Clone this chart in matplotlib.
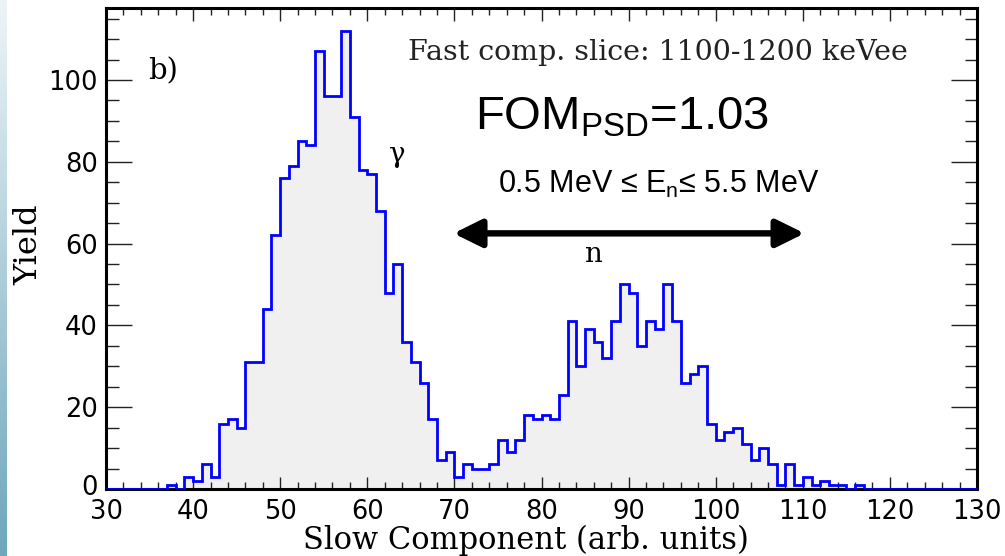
import numpy as np
import matplotlib
matplotlib.use('Agg')
from matplotlib import pyplot as plt
from matplotlib.ticker import MultipleLocator
from matplotlib.transforms import ScaledTranslation

plt.rcParams['mathtext.fontset'] = 'custom'
plt.rcParams['mathtext.rm'] = 'Liberation Sans'
plt.rcParams['mathtext.it'] = 'Liberation Sans'

# histogram: slow component, 1 unit bins from 30 to 130
edges = np.arange(30, 131, 1)
counts = [0, 0, 0, 0, 0, 0, 0, 1, 0, 3,        # 30-39
          2, 6, 3, 16, 17, 15, 31, 31, 44, 62,   # 40-49
          76, 79, 85, 84, 107, 96, 96, 112, 91, 78,  # 50-59
          77, 68, 48, 55, 36, 31, 26, 17, 7, 9,  # 60-69
          3, 6, 5, 5, 6, 12, 9, 12, 18, 17,      # 70-79
          18, 17, 23, 41, 30, 39, 36, 32, 41, 50,  # 80-89
          48, 35, 41, 39, 50, 41, 26, 28, 30, 16,  # 90-99
          12, 14, 15, 11, 7, 10, 6, 1, 6, 1,     # 100-109
          3, 1, 2, 1, 1, 0, 1, 0, 0, 0,          # 110-119
          0, 0, 0, 0, 0, 0, 0, 0, 0, 0]          # 120-129

x_ticks = np.arange(30, 131, 10)
y_ticks = np.arange(0, 101, 20)

fig = plt.figure(figsize=(10.05, 5.56), dpi=100)
fig.patch.set_facecolor('white')

# light blue strip at the left edge (slide background)
strip = fig.add_axes([0, 0, 6 / 1005, 1])
grad = np.linspace(0, 1, 256).reshape(-1, 1)
strip.imshow(grad, aspect='auto', cmap=matplotlib.colors.LinearSegmentedColormap.from_list(
    'bg', ['#edf4f8', '#6ea6bb']), extent=[0, 1, 0, 1], origin='upper')
strip.axis('off')

ax = fig.add_axes([106 / 1005, 1 - 489 / 556, 871 / 1005, 481 / 556])
ax.stairs(counts, edges, fill=True, color='#f0f0f0')
ax.stairs(counts, edges, color='#0000ff', lw=2.0, zorder=3)

ax.set_xlim(30, 130)
ax.set_ylim(0, 117.6)
ax.set_xticks(x_ticks)
ax.set_yticks(y_ticks)
ax.xaxis.set_minor_locator(MultipleLocator(2))
ax.yaxis.set_minor_locator(MultipleLocator(5))
for s in ax.spines.values():
    s.set_linewidth(2.2)
ax.tick_params(which='both', direction='in', top=True, right=True, width=1.0, color='#222222')
ax.tick_params(axis='y', which='major', length=19, pad=6)
ax.tick_params(axis='y', which='minor', length=9)
ax.tick_params(axis='x', which='major', length=9, pad=7)
ax.tick_params(axis='x', which='minor', length=5)
for lab in ax.get_xticklabels() + ax.get_yticklabels():
    lab.set_fontfamily('DejaVu Sans')
    lab.set_fontsize(18.5)
# the "0" sits just above the "30"
ylab0 = ax.get_yticklabels()[0]
ylab0.set_transform(ylab0.get_transform() + ScaledTranslation(0, 4 / 100, fig.dpi_scale_trans))

fig.text(526 / 1005, 1 - 540 / 556, 'Slow Component (arb. units)', family='DejaVu Serif',
         fontsize=22, ha='center', va='center')
fig.text(29 / 1005, 1 - 245 / 556, 'Yield', family='DejaVu Serif', fontsize=23,
         rotation=90, ha='center', va='center')

ax.text(34.8, 102, 'b)', family='DejaVu Serif', fontsize=21, va='center')
ax.text(93.4, 106.8, 'Fast comp. slice: 1100-1200 keVee', family='DejaVu Serif',
        fontsize=20.5, ha='center', va='center', color='#222222')
ax.text(63.4, 81.7, '\u03b3', family='DejaVu Serif', fontsize=20, ha='center', va='center')
ax.text(85.9, 57.3, 'n', family='DejaVu Serif', fontsize=20, ha='center', va='center')

ax.text(72.4, 87.8, r'FOM$_{\mathrm{PSD}}$=1.03', family='Liberation Sans', fontsize=34,
        va='baseline')
ax.text(75.0, 72.4, '0.5 MeV \u2264 E$_{\\mathrm{n}}$\u2264 5.5 MeV',
        family='Liberation Sans', fontsize=22, va='baseline')

ax.annotate('', xy=(69.9, 62.5), xytext=(110.2, 62.5),
            arrowprops=dict(arrowstyle='<|-|>,head_length=0.85,head_width=0.42',
                            mutation_scale=20, lw=4.6, color='black',
                            shrinkA=0, shrinkB=0))

fig.savefig('out.png', dpi=100)
